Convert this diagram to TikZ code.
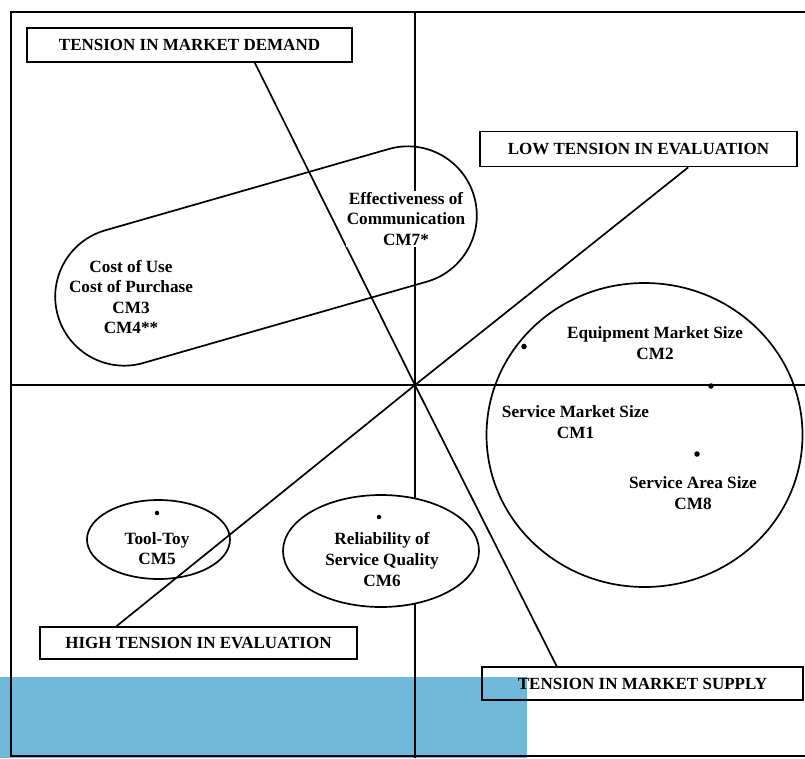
\documentclass[tikz,border=0pt]{standalone}
\usepackage{fontspec}
\setmainfont{Liberation Serif}
\usetikzlibrary{shapes.geometric,calc}
\definecolor{wmblue}{RGB}{111,184,217}
\begin{document}
\begin{tikzpicture}[x=1pt,y=-1pt,line width=1.7pt,
  lbl/.style={draw,rectangle,inner sep=0pt,font=\bfseries\fontsize{17}{21}\selectfont},
  txt/.style={align=center,inner sep=1pt,font=\bfseries\fontsize{17.2}{20.6}\selectfont},
  pt/.style={circle,fill,inner sep=0pt,minimum size=5.5pt},
  oval/.style={draw,ellipse,inner sep=0pt}]
\useasboundingbox (0,0) rectangle (805,758);
\clip (0,0) rectangle (805,758);
\fill[wmblue] (0,677) rectangle (527,758);
% frame
\draw (11,12) rectangle (812,756);
% axes
\coordinate (O) at (415,385);
\coordinate (vt) at (415,12);
\coordinate (vb) at (415,758);
\coordinate (hl) at (11,385);
\coordinate (hr) at (805,385);
\draw (vt) -- (vb);
\draw (hl) -- (hr);
% label boxes
\node[lbl,minimum width=325pt,minimum height=34pt] (dem) at (189.5,45) {TENSION IN MARKET DEMAND};
\node[lbl,minimum width=317pt,minimum height=35pt] (low) at (638.5,149) {LOW TENSION IN EVALUATION};
\node[lbl,minimum width=317pt,minimum height=32pt] (high) at (198.5,643) {HIGH TENSION IN EVALUATION};
\node[lbl,minimum width=321pt,minimum height=33pt] (sup) at (642.5,683.5) {TENSION IN MARKET SUPPLY};
% diagonal lines
\draw ($(dem.south west)!0.70!(dem.south east)$) -- (O) -- ($(sup.north west)!0.234!(sup.north east)$);
\draw ($(low.south west)!0.656!(low.south east)$) -- (O) -- ($(high.north west)!0.243!(high.north east)$);
% groups
\node[draw,rectangle,rounded corners=69pt,minimum width=433pt,minimum height=138pt,rotate=16] (grp) at (266,256) {};
\node[oval,minimum width=143pt,minimum height=79pt] (tool) at (158.5,539.5) {};
\node[oval,minimum width=316pt,minimum height=304pt] (big) at (644.5,435) {};
\node[oval,fill=white,minimum width=196pt,minimum height=112pt] (rel) at (381,551) {};
% texts
\node[txt] (t34) at (131,297) {Cost of Use\\Cost of Purchase\\CM3\\CM4**};
\node[txt,fill=white] (t7) at (406,219) {Effectiveness of\\Communication\\CM7*};
\node[txt] (t2) at (655,343) {Equipment Market Size\\CM2};
\node[txt] (t1) at (575.5,422) {Service Market Size\\CM1};
\node[txt] (t8) at (693,493) {Service Area Size\\CM8};
\node[txt] (t5) at (157,548.5) {Tool-Toy\\CM5};
\node[txt] (t6) at (382,559.5) {Reliability of\\Service Quality\\CM6};
% dots
\node[pt] (d2) at (524,346.5) {};
\node[pt] (d1) at (711,386) {};
\node[pt] (d8) at (697,454) {};
\node[pt,minimum size=4.5pt] (d5) at (157,513) {};
\node[pt,minimum size=4.5pt] (d6) at (379,517) {};
\end{tikzpicture}
\end{document}
